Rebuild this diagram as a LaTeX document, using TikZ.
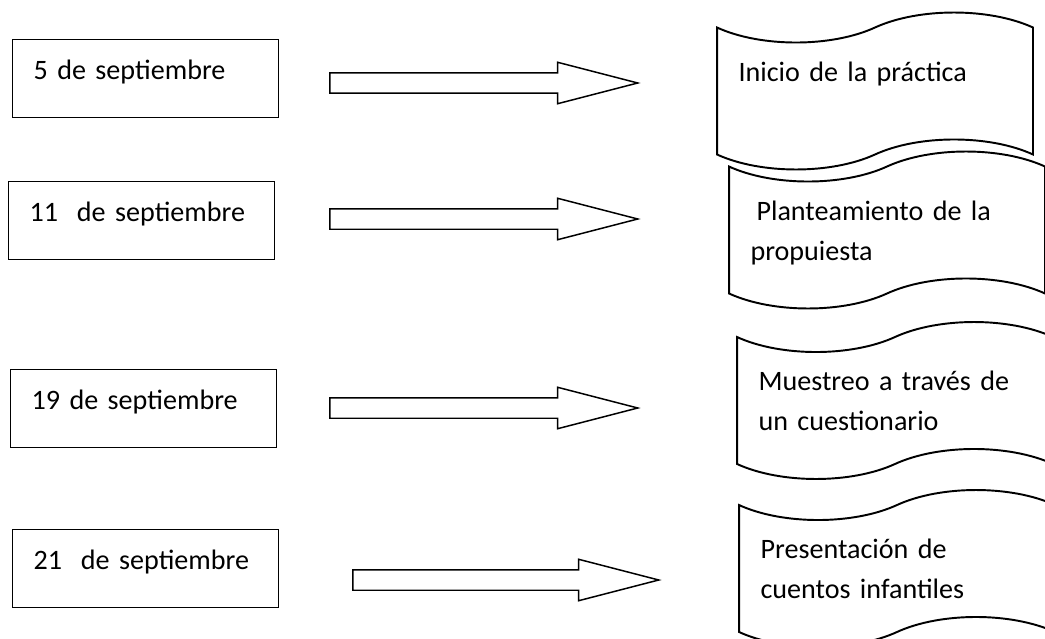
\documentclass[tikz,border=0pt]{standalone}
\usepackage{fontspec}
\setmainfont{Carlito}
\usetikzlibrary{shapes.symbols,shapes.arrows}
\tikzset{
  datebox/.style={draw, line width=0.85pt, anchor=north west, minimum width=5.32cm,
    inner xsep=0.42cm, inner ysep=0pt, text width=4.48cm, align=left,
    text height=0.8cm, text depth=0.76cm},
  scroll/.style={tape, draw, line width=1.1pt, minimum width=6.32cm, minimum height=3.14cm,
    tape bend height=0.6cm, inner xsep=0.43cm, text width=5.46cm, align=left,
    text height=0.4cm, text depth=0.8cm},
  bigarrow/.style={single arrow, draw, line width=0.85pt, inner xsep=0pt, inner ysep=0.19cm,
    minimum width=0.8cm, single arrow head extend=0.21cm, single arrow tip angle=29, anchor=west}
}
\begin{document}
\begin{tikzpicture}[x=0.02cm, y=-0.02cm, every node/.style={font=\fontsize{16}{22.8}\selectfont}]
\useasboundingbox (0,0) rectangle (1045,639);
% fechas
\node[datebox] (d1) at (12,39) {5 de septiembre};
\node[datebox] (d2) at (8,181) {11~~de septiembre};
\node[datebox] (d3) at (10,369) {19 de septiembre};
\node[datebox] (d4) at (12,529) {21~~de septiembre};
% flechas
\node[bigarrow, minimum height=6.16cm] (a1) at (329,83) {};
\node[bigarrow, minimum height=6.16cm] (a2) at (329,219) {};
\node[bigarrow, minimum height=6.16cm] (a3) at (329,408) {};
\node[bigarrow, minimum height=6.12cm] (a4) at (352,580) {};
% actividades
\node[scroll] (s1) at (875,91) {Inicio de la práctica};
\node[scroll] (s2) at (887,230) {\hspace*{0.12cm}Planteamiento de la\\propuiesta};
\node[scroll] (s3) at (895,400.5) {Muestreo a través de\\un cuestionario};
\node[scroll] (s4) at (897,568.5) {Presentación de\\cuentos infantiles};
\end{tikzpicture}
\end{document}
